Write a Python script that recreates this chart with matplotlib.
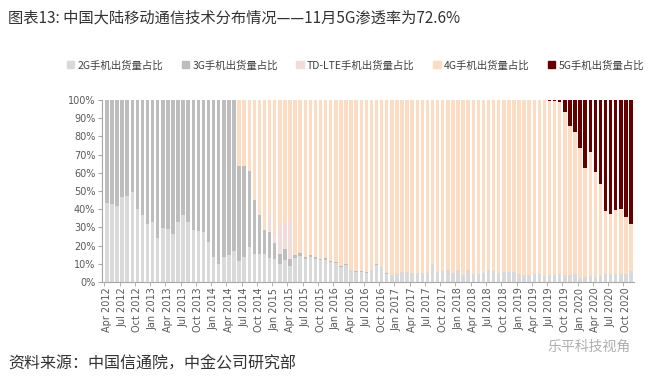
import matplotlib.pyplot as plt
import numpy as np
from matplotlib.patches import Patch

plt.rcParams['font.family'] = ['Noto Sans CJK SC', 'DejaVu Sans']

MONTHS = ["Jan", "Feb", "Mar", "Apr", "May", "Jun",
          "Jul", "Aug", "Sep", "Oct", "Nov", "Dec"]

# monthly shares (%), Apr 2012 .. Nov 2020
share_2g = [
    43.3, 42.8, 42.0, 46.6, 47.2, 49.2, 39.9, 36.9, 31.8, 33.1, 24.1, 29.6,
    28.9, 26.3, 32.7, 36.6, 32.7, 28.8, 27.8, 27.2, 21.9, 13.7, 9.7, 13.5,
    14.6, 16.8, 11.5, 13.9, 19.3, 15.6, 15.2, 15.2, 13.0, 12.9, 9.7, 12.0,
    9.0, 13.3, 14.3, 12.4, 13.6, 12.8, 11.9, 12.2, 11.0, 10.6, 8.2, 9.5,
    6.4, 5.5, 5.5, 5.1, 6.4, 9.5, 8.2, 4.6, 3.7, 4.6, 5.5, 5.5,
    5.1, 5.1, 4.9, 4.9, 9.7, 5.5, 6.0, 6.6, 4.9, 6.8, 3.7, 6.8,
    4.2, 4.2, 4.9, 6.6, 6.0, 4.9, 5.3, 5.3, 5.3, 4.6, 4.0, 3.7,
    4.2, 4.2, 3.5, 3.7, 3.7, 4.2, 3.7, 3.7, 4.2, 2.4, 2.7, 3.3,
    2.7, 3.1, 4.2, 4.2, 4.6, 4.2, 4.2, 6.0,
]
share_3g_head = [
    52.1, 49.7, 41.9, 29.6, 21.5, 13.6, 14.6, 8.4, 5.9, 6.2, 3.4,
    1.5, 1.5, 1.2, 1.0, 1.0, 0.8, 1.0, 0.8, 0.6, 0.5, 0.5,
    0.3, 0.3, 0.3, 0.3, 0.3, 0.3, 0.3, 0.3,
]
share_tdlte_head = [0, 0, 0, 0, 0, 0, 9.5, 4.5, 15.5, 15.0, 21.0]
share_5g_tail = [
    0.3, 0.7, 1.3, 6.8, 14.4, 17.7, 26.3, 37.3, 28.7, 39.7, 46.4,
    61.2, 62.5, 60.3, 60.1, 64.4, 68.0,
]

series_names = ["2G手机出货量占比", "3G手机出货量占比", "TD-LTE手机出货量占比",
                "4G手机出货量占比", "5G手机出货量占比"]
colors = ["#D9D9D9", "#BDBDBD", "#F2DCDB", "#FDDCC4", "#660000"]


def main() -> None:
    n = len(share_2g)
    labels = []
    for i in range(n):
        m = (3 + i) % 12
        y = 2012 + (3 + i) // 12
        labels.append(f"{MONTHS[m]} {y}")

    g2 = np.array(share_2g)
    g3 = np.zeros(n)
    g3[:26] = 100 - g2[:26]
    g3[26:26 + len(share_3g_head)] = share_3g_head
    td = np.zeros(n)
    td[26:26 + len(share_tdlte_head)] = share_tdlte_head
    g5 = np.zeros(n)
    g5[n - len(share_5g_tail):] = share_5g_tail
    g4 = np.clip(100 - g2 - g3 - td - g5, 0, None)

    fig = plt.figure(figsize=(6.51, 3.79), dpi=100)
    ax = fig.add_axes([0.157, 0.256, 0.817, 0.48])

    x = np.arange(n)
    bottom = np.zeros(n)
    for vals, c in zip([g2, g3, td, g4, g5], colors):
        ax.bar(x, vals, bottom=bottom, width=0.68, color=c, linewidth=0)
        bottom += vals

    ax.set_xlim(-0.9, n - 0.4)
    ax.set_ylim(0, 100)
    ax.set_yticks(range(0, 101, 10))
    ax.set_yticklabels([f"{v}%" for v in range(0, 101, 10)],
                       family="DejaVu Sans", fontsize=7, color="#595959")
    ax.set_xticks(x[::3])
    ax.set_xticklabels(labels[::3], rotation=90, family="DejaVu Sans",
                       fontsize=7, color="#595959")
    ax.set_xticks(np.arange(-0.5, n, 3), minor=True)
    ax.tick_params(axis="x", which="major", length=0, pad=4)
    ax.tick_params(axis="x", which="minor", length=3, color="#A6A6A6")
    ax.tick_params(axis="y", length=3, color="#A6A6A6", pad=2)
    for side in ["top", "right"]:
        ax.spines[side].set_visible(False)
    for side in ["left", "bottom"]:
        ax.spines[side].set_color("#A6A6A6")
        ax.spines[side].set_linewidth(0.8)

    handles = [Patch(color=c) for c in colors]
    fig.legend(handles, series_names, loc="center", ncol=5,
               bbox_to_anchor=(0.546, 0.828), frameon=False, fontsize=7.5,
               handlelength=0.7, handleheight=0.7, handletextpad=0.3,
               columnspacing=1.8, labelcolor="#404040")

    fig.text(0.012, 0.952, "图表13: 中国大陆移动通信技术分布情况——11月5G渗透率为72.6%",
             fontsize=11, color="#333333", va="center")
    fig.text(0.012, 0.04, "资料来源：中国信通院，中金公司研究部",
             fontsize=11.5, color="#333333", va="center")
    # watermark, kept just under the rotated month labels
    fig.text(0.905, 0.085, "乐平科技视角", fontsize=10, color="#9A9A9A",
             alpha=0.8, ha="center", va="center")

    fig.savefig("out.png", dpi=100)


if __name__ == "__main__":
    main()
